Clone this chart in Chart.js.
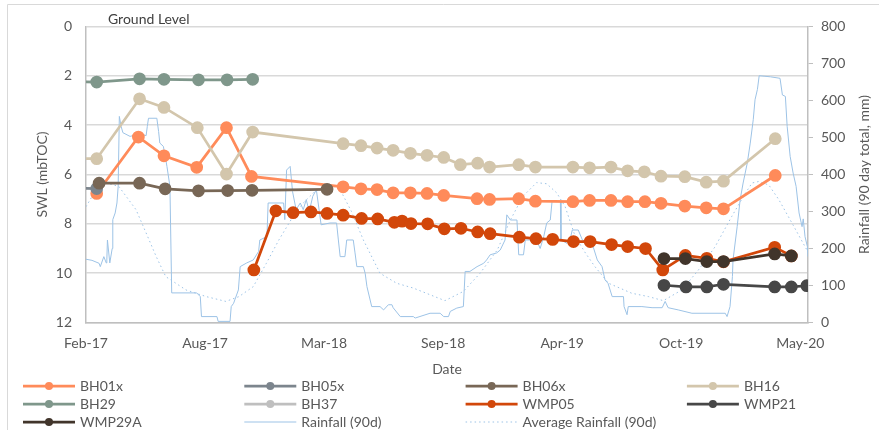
<!DOCTYPE html>
<html>
<head>
<meta charset="utf-8">
<script src="https://cdn.jsdelivr.net/npm/chart.js@4"></script>
<style>
  html, body { margin: 0; padding: 0; background: #fff; }
</style>
</head>
<body>
<canvas id="chart" width="879" height="430"></canvas>
<script>
// x values are days since 1 Feb 2017
const startDate = Date.UTC(2017, 1, 1);
const xTickDays = [0, 200, 400, 600, 800, 1000, 1200];
const xTickLabels = ['Feb-17', 'Aug-17', 'Mar-18', 'Sep-18', 'Apr-19', 'Oct-19', 'May-20'];

// Standing water level (m below top of casing)
const bh01xDays = [18, 88, 131, 186, 236, 278, 432, 462, 489, 516, 545, 573, 601, 657, 678, 727, 755, 818, 846, 882, 910, 939, 966, 1006, 1042, 1071, 1158];
const bh01xSwl = [6.77, 4.48, 5.24, 5.71, 4.10, 6.08, 6.50, 6.58, 6.61, 6.74, 6.74, 6.77, 6.85, 6.98, 7.01, 6.98, 7.08, 7.10, 7.05, 7.05, 7.10, 7.10, 7.17, 7.28, 7.35, 7.39, 6.04];

const bh05xDays = [-40, 18];
const bh05xSwl = [6.55, 6.57];

const bh06xDays = [22, 90, 133, 189, 238, 279, 405];
const bh06xSwl = [6.35, 6.35, 6.58, 6.66, 6.65, 6.64, 6.60];

const bh16Days = [-40, 18, 90, 131, 187, 236, 280, 432, 462, 489, 516, 545, 573, 601, 629, 658, 678, 727, 755, 818, 846, 882, 910, 938, 966, 1006, 1042, 1071, 1158];
const bh16Swl = [5.36, 5.36, 2.93, 3.28, 4.10, 5.98, 4.28, 4.75, 4.83, 4.93, 5.02, 5.14, 5.22, 5.31, 5.60, 5.54, 5.70, 5.60, 5.70, 5.70, 5.73, 5.70, 5.85, 5.89, 6.07, 6.09, 6.31, 6.27, 4.55];

const bh29Days = [-40, 18, 90, 131, 189, 237, 280];
const bh29Swl = [2.22, 2.25, 2.12, 2.14, 2.16, 2.16, 2.14];

const bh37Days = [];
const bh37Swl = [];

const wmp05Days = [282, 319, 348, 378, 405, 432, 463, 490, 518, 531, 546, 574, 602, 630, 658, 679, 728, 756, 784, 819, 847, 883, 910, 940, 969, 1007, 1043, 1071, 1157, 1185];
const wmp05Swl = [9.87, 7.47, 7.55, 7.52, 7.58, 7.65, 7.78, 7.80, 7.94, 7.89, 7.99, 8.00, 8.20, 8.18, 8.33, 8.40, 8.54, 8.60, 8.63, 8.72, 8.72, 8.84, 8.92, 9.00, 9.87, 9.28, 9.40, 9.54, 8.95, 9.30];

const wmp21Days = [971, 1008, 1043, 1071, 1157, 1185, 1211];
const wmp21Swl = [10.49, 10.56, 10.56, 10.45, 10.56, 10.56, 10.51];

const wmp29aDays = [971, 1007, 1043, 1071, 1157, 1185];
const wmp29aSwl = [9.41, 9.41, 9.53, 9.53, 9.22, 9.30];

// 90 day rainfall total, [day, mm]
const rainfall90d = [
  [0, 171], [10, 168], [22, 160], [24, 151], [30, 178], [34, 161], [35, 169], [36, 223], [40, 161], [44, 200],
  [45, 278], [49, 296], [52, 323], [54, 367], [56, 557], [59, 530], [62, 513], [74, 503], [91, 510], [101, 505],
  [103, 530], [105, 552], [119, 552], [122, 516], [124, 485], [130, 476], [133, 449], [136, 422], [141, 368], [144, 80],
  [186, 80], [192, 70], [194, 16], [220, 16], [222, 3], [242, 3], [244, 43], [248, 52], [256, 88], [259, 151],
  [270, 161], [281, 169], [290, 192], [292, 223], [304, 232], [306, 323], [332, 323], [334, 278], [337, 412], [343, 422],
  [347, 354], [353, 305], [360, 323], [365, 305], [370, 332], [375, 300], [381, 341], [387, 359], [392, 300], [395, 264],
  [410, 269], [421, 269], [424, 223], [427, 178], [435, 178], [438, 223], [449, 223], [452, 188], [455, 151], [466, 151],
  [469, 133], [472, 97], [480, 43], [494, 43], [500, 34], [508, 48], [514, 48], [516, 40], [528, 16], [550, 16],
  [553, 12], [578, 25], [595, 25], [601, 16], [609, 16], [612, 30], [623, 39], [634, 43], [637, 138], [645, 138],
  [657, 151], [668, 160], [673, 169], [679, 183], [690, 188], [696, 196], [704, 223], [707, 291], [713, 277], [724, 277],
  [727, 183], [735, 183], [738, 223], [746, 223], [752, 232], [757, 223], [763, 200], [769, 232], [774, 269], [780, 277],
  [783, 327], [797, 327], [798, 223], [808, 214], [813, 223], [817, 250], [827, 250], [834, 223], [847, 214], [852, 205],
  [859, 169], [867, 151], [872, 115], [877, 106], [884, 70], [903, 70], [904, 43], [909, 21], [911, 43], [934, 43],
  [951, 40], [968, 40], [973, 57], [978, 40], [995, 34], [1018, 25], [1074, 25], [1077, 16], [1082, 43], [1086, 124],
  [1087, 169], [1094, 259], [1099, 332], [1104, 377], [1111, 431], [1116, 485], [1121, 548], [1124, 602], [1128, 630], [1131, 667],
  [1150, 664], [1166, 660], [1170, 615], [1175, 611], [1178, 530], [1183, 449], [1188, 404], [1193, 368], [1198, 296], [1203, 259],
  [1205, 280], [1208, 232], [1212, 205], [1213, 178]
];

// long term average of the 90 day total, [day, mm]
const avgRainfall90d = [
  [0, 313], [17, 359], [34, 377], [55, 368], [84, 305], [101, 242], [118, 178], [134, 124], [168, 88], [202, 70],
  [235, 57], [257, 70], [281, 97], [303, 160], [324, 223], [348, 287], [365, 323], [385, 355], [410, 372], [427, 359],
  [446, 300], [466, 223], [494, 133], [522, 106], [550, 93], [578, 75], [603, 59], [634, 84], [662, 133], [691, 196],
  [713, 277], [734, 341], [757, 378], [774, 375], [791, 350], [805, 313], [822, 232], [839, 188], [855, 151], [878, 106],
  [917, 79], [945, 70], [970, 59], [1001, 88], [1029, 142], [1057, 205], [1085, 287], [1108, 350], [1119, 377], [1130, 381],
  [1147, 372], [1164, 332], [1186, 269], [1208, 205], [1217, 180]
];

const textColor = '#595959';
const fontFamily = 'Lato, "Open Sans", sans-serif';

function toPoints(days, values) {
  return days.map((d, i) => ({ x: d, y: values[i] }));
}

function dayLabel(v) {
  const i = xTickDays.indexOf(v);
  return i >= 0 ? xTickLabels[i] : '';
}

// Function to create a well series
function wellSeries(label, days, values, color, order) {
  return {
    label: label,
    data: toPoints(days, values),
    yAxisID: 'y',
    borderColor: color,
    backgroundColor: color,
    pointBackgroundColor: color,
    pointBorderColor: color,
    pointRadius: 5,
    pointHoverRadius: 5,
    borderWidth: 2.75,
    order: order,
  };
}

const datasets = [
  wellSeries('BH01x', bh01xDays, bh01xSwl, '#FF8B5A', 9),
  wellSeries('BH05x', bh05xDays, bh05xSwl, '#7C858D', 8),
  wellSeries('BH06x', bh06xDays, bh06xSwl, '#786756', 7),
  wellSeries('BH16', bh16Days, bh16Swl, '#D3C6AC', 6),
  wellSeries('BH29', bh29Days, bh29Swl, '#7F978B', 5),
  wellSeries('BH37', bh37Days, bh37Swl, '#BFBFBF', 4),
  wellSeries('WMP05', wmp05Days, wmp05Swl, '#D2470A', 3),
  wellSeries('WMP21', wmp21Days, wmp21Swl, '#474747', 2),
  wellSeries('WMP29A', wmp29aDays, wmp29aSwl, '#41352B', 1),
  {
    label: 'Rainfall (90d)',
    data: rainfall90d.map((p) => ({ x: p[0], y: p[1] })),
    yAxisID: 'y1',
    borderColor: '#9DC3E6',
    borderWidth: 1,
    pointRadius: 0,
    order: 20,
  },
  {
    label: 'Average Rainfall (90d)',
    data: avgRainfall90d.map((p) => ({ x: p[0], y: p[1] })),
    yAxisID: 'y1',
    borderColor: '#9DC3E6',
    borderWidth: 1,
    borderDash: [1.5, 3],
    pointRadius: 0,
    order: 21,
  },
];

// Frame, axis title on the right, "Ground Level" note and the four column legend
const decorPlugin = {
  id: 'decor',
  beforeDraw(chart) {
    const ctx = chart.ctx;
    ctx.save();
    ctx.strokeStyle = '#d9d9d9';
    ctx.lineWidth = 1;
    ctx.beginPath();
    ctx.moveTo(7.5, 440);
    ctx.lineTo(7.5, 4.5);
    ctx.lineTo(890, 4.5);
    ctx.stroke();
    ctx.restore();
  },
  afterDraw(chart) {
    const ctx = chart.ctx;
    const area = chart.chartArea;
    ctx.save();
    ctx.font = '14px ' + fontFamily;
    ctx.textBaseline = 'middle';

    // right axis title reads bottom to top
    ctx.save();
    ctx.translate(864, (area.top + area.bottom) / 2);
    ctx.rotate(-Math.PI / 2);
    ctx.textAlign = 'center';
    ctx.fillStyle = textColor;
    ctx.fillText('Rainfall (90 day total, mm)', 0, 0);
    ctx.restore();

    ctx.fillStyle = '#404040';
    ctx.fillText('Ground Level', 108, 19);

    chart.data.datasets.forEach((ds, i) => {
      const x = 23 + (i % 4) * 221.3;
      const y = 386 + Math.floor(i / 4) * 18;
      ctx.strokeStyle = ds.borderColor;
      ctx.lineWidth = ds.pointRadius ? 2.75 : 1;
      ctx.setLineDash(ds.borderDash || []);
      ctx.beginPath();
      ctx.moveTo(x, y);
      ctx.lineTo(x + 52, y);
      ctx.stroke();
      ctx.setLineDash([]);
      if (ds.pointRadius) {
        ctx.fillStyle = ds.borderColor;
        ctx.beginPath();
        ctx.arc(x + 26, y, 4, 0, Math.PI * 2);
        ctx.fill();
      }
      ctx.fillStyle = textColor;
      ctx.fillText(ds.label, x + 57, y);
    });
    ctx.restore();
  },
};

Chart.defaults.font.family = fontFamily;
Chart.defaults.font.size = 14;
Chart.defaults.color = textColor;

new Chart(document.getElementById('chart').getContext('2d'), {
  type: 'line',
  data: { datasets: datasets },
  options: {
    responsive: false,
    animation: false,
    events: [],
    layout: { padding: { left: 8, right: 8, top: 26.5, bottom: 51.5 } },
    plugins: {
      legend: { display: false },
      tooltip: { enabled: false },
    },
    scales: {
      x: {
        type: 'linear',
        min: 0,
        max: 1213,
        afterBuildTicks: (scale) => {
          scale.ticks = xTickDays.map((v) => ({ value: v }));
        },
        afterFit: (scale) => {
          scale.height = 56;
        },
        ticks: {
          autoSkip: false,
          maxRotation: 0,
          padding: 5,
          callback: (v) => dayLabel(v),
        },
        grid: { display: false },
        border: { display: true, color: '#bfbfbf', width: 1.5 },
        title: { display: true, text: 'Date', padding: { top: 0, bottom: 1 } },
      },
      y: {
        position: 'left',
        reverse: true,
        min: 0,
        max: 12,
        afterFit: (scale) => {
          scale.width = 78;
        },
        ticks: { stepSize: 2, padding: 14 },
        grid: { color: '#d9d9d9', lineWidth: 1.5, drawTicks: false },
        border: { display: true, color: '#bfbfbf', width: 1.5 },
        title: { display: true, text: 'SWL (mbTOC)', padding: { top: 26, bottom: 0 } },
      },
      y1: {
        position: 'right',
        min: 0,
        max: 800,
        afterFit: (scale) => {
          scale.width = 63;
        },
        ticks: { stepSize: 100, padding: 8 },
        grid: { drawOnChartArea: false, color: '#bfbfbf', tickLength: 5 },
        border: { display: true, color: '#bfbfbf', width: 1.5 },
        title: { display: false },
      },
    },
  },
  plugins: [decorPlugin],
});
</script>
</body>
</html>
